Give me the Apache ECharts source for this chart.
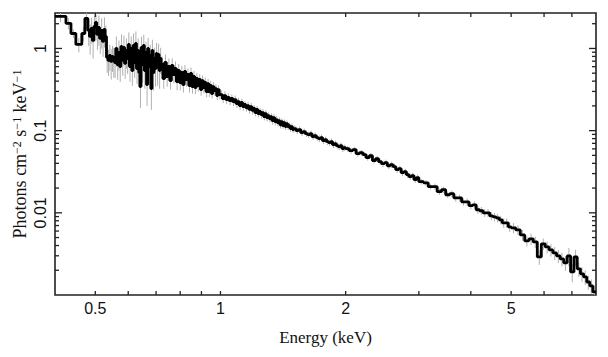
<!DOCTYPE html>
<html><head><meta charset="utf-8">
<script src="https://cdn.jsdelivr.net/npm/echarts@6/dist/echarts.min.js"></script>
<style>html,body{margin:0;padding:0;background:#fff}#c{width:608px;height:357px}</style>
</head><body><div id="c"></div>
<script>
// Bin edges (keV)
const binEdges = [
  0.400, 0.425, 0.437, 0.449, 0.464, 0.472,
  0.480, 0.484, 0.488, 0.492, 0.496, 0.500, 0.504, 0.508, 0.512, 0.516,
  0.520, 0.524, 0.528, 0.532, 0.536, 0.540, 0.544, 0.548, 0.552, 0.556,
  0.560, 0.564, 0.568, 0.572, 0.576, 0.580, 0.584, 0.588, 0.592, 0.596,
  0.600, 0.604, 0.608, 0.612, 0.616, 0.620, 0.624, 0.628, 0.632, 0.636,
  0.640, 0.644, 0.648, 0.652, 0.656, 0.660, 0.664, 0.668, 0.672, 0.676,
  0.680, 0.684, 0.688, 0.692, 0.696, 0.700, 0.704, 0.708, 0.712, 0.716,
  0.720, 0.727, 0.734, 0.741, 0.748, 0.755, 0.762, 0.769, 0.776, 0.783,
  0.790, 0.797, 0.804, 0.811, 0.818, 0.825, 0.832, 0.839, 0.846, 0.853,
  0.860, 0.867, 0.874, 0.881, 0.888, 0.895, 0.902, 0.909, 0.916, 0.923,
  0.930, 0.937, 0.944, 0.951, 0.958, 0.965, 0.972, 0.979, 0.986, 0.993,
  1.00, 1.01, 1.02, 1.03, 1.04, 1.05, 1.06, 1.07, 1.08, 1.09,
  1.10, 1.11, 1.12, 1.13, 1.14, 1.15, 1.16, 1.17, 1.18, 1.19,
  1.20, 1.21, 1.22, 1.23, 1.24, 1.25, 1.26, 1.27, 1.28, 1.29,
  1.30, 1.31, 1.32, 1.33, 1.34, 1.35, 1.36, 1.37, 1.38, 1.39,
  1.40, 1.41, 1.42, 1.43, 1.44, 1.45, 1.46, 1.47, 1.48, 1.49,
  1.50, 1.52, 1.54, 1.56, 1.58, 1.60, 1.62, 1.64, 1.66, 1.68,
  1.70, 1.72, 1.74, 1.76, 1.78, 1.80, 1.82, 1.84, 1.86, 1.88,
  1.90, 1.92, 1.94, 1.96, 1.98,
  2.00, 2.04, 2.08, 2.12, 2.16, 2.20, 2.24, 2.28, 2.32, 2.36,
  2.40, 2.44, 2.48, 2.52, 2.56, 2.60, 2.64, 2.68, 2.72, 2.76,
  2.80, 2.84, 2.88, 2.92, 2.96,
  3.00, 3.08, 3.16, 3.24, 3.32, 3.40, 3.48, 3.56, 3.64, 3.72,
  3.80, 3.88, 3.96, 4.04, 4.12, 4.20, 4.28, 4.36, 4.44, 4.52,
  4.60, 4.68, 4.76, 4.84, 4.92,
  5.00, 5.13, 5.26, 5.39, 5.52, 5.65, 5.78, 5.91, 6.04, 6.17,
  6.30, 6.43, 6.56, 6.69, 6.82, 6.95, 7.08, 7.21, 7.34, 7.47,
  7.60, 7.73, 7.86, 8.00
];
// Flux per bin (photons cm^-2 s^-1 keV^-1)
const flux = [
  2.46, 2.02, 1.52, 1.12, 1.52, 2.32,
  1.658, 1.401, 1.753, 1.252, 1.855,  2.075, 1.482, 1.804, 1.324, 1.658,
  1.217, 1.705, 1.401, 0.777, 0.714,  0.822, 0.695, 0.799, 0.734, 0.675,
  1.000, 0.638, 0.894, 0.603, 1.058,  0.714, 1.028, 0.657, 0.945, 0.755,
  1.119, 0.603, 1.000, 0.539, 1.088,  0.675, 1.151, 0.570, 0.945, 0.510,
  0.344, 1.028, 0.638, 1.088, 0.539,  0.894, 0.364, 1.000, 0.603, 0.822,
  0.325, 0.945, 0.510, 0.755, 0.570,  0.869, 0.587, 0.845, 0.539, 0.755,
  0.638, 0.431, 0.675, 0.456, 0.603, 0.407, 0.620, 0.482, 0.570, 0.396,
  0.539, 0.385, 0.510, 0.364, 0.524, 0.419, 0.482, 0.354, 0.496, 0.344,
  0.456, 0.335, 0.431, 0.354, 0.419, 0.316, 0.407, 0.335, 0.385, 0.299,
  0.374, 0.299, 0.354, 0.283, 0.344, 0.308, 0.325, 0.267, 0.316, 0.275,
  0.275, 0.246, 0.267, 0.239, 0.253, 0.232, 0.246, 0.226, 0.239, 0.214,
  0.226, 0.202, 0.220, 0.196, 0.208, 0.191, 0.202, 0.181, 0.196, 0.176,
  0.186, 0.166, 0.181, 0.161, 0.171, 0.157, 0.166, 0.148, 0.161, 0.144,
  0.152, 0.140, 0.148, 0.132, 0.144, 0.129, 0.136, 0.125, 0.132, 0.118,
  0.129, 0.115, 0.125, 0.112, 0.122, 0.112, 0.115, 0.106, 0.112, 0.103,
  0.106, 0.100, 0.103, 0.0945, 0.0972, 0.0919, 0.0893, 0.0919, 0.0845, 0.0869,
  0.0821, 0.0799, 0.0821, 0.0755, 0.0777, 0.0734, 0.0714, 0.0734, 0.0675, 0.0694,
  0.0656, 0.0638, 0.0656, 0.0603, 0.0620,
  0.0603, 0.0570, 0.0587, 0.0524, 0.0539, 0.0510, 0.0469, 0.0496, 0.0431, 0.0456,
  0.0419, 0.0396, 0.0407, 0.0374, 0.0385, 0.0364, 0.0335, 0.0344, 0.0308, 0.0316,
  0.0291, 0.0275, 0.0283, 0.0253, 0.0267,
  0.0239, 0.0232, 0.0208, 0.0208, 0.0181, 0.0191, 0.0166, 0.0171, 0.0152, 0.0152,
  0.0136, 0.0136, 0.0122, 0.0125, 0.0109, 0.0106, 0.0100, 0.0100, 0.00919, 0.00893,
  0.00869, 0.00821, 0.00755, 0.00755, 0.00675,
  0.00657, 0.00620, 0.00539, 0.00456, 0.00482, 0.00443, 0.00291, 0.00419, 0.00385, 0.00354,
  0.00325, 0.00299, 0.00275, 0.00246, 0.00299, 0.00191, 0.00291, 0.00208, 0.00181, 0.00166,
  0.00144, 0.00129, 0.00109
];
// Fractional 1-sigma uncertainty per bin
const relErr = [
  0.15, 0.15, 0.12, 0.20, 0.20, 0.25,
  0.35, 0.40, 0.35, 0.40, 0.35, 0.40, 0.35, 0.40, 0.35, 0.40,
  0.35, 0.40, 0.35, 0.35, 0.35, 0.35, 0.40, 0.35, 0.40, 0.35,
  0.40, 0.35, 0.40, 0.35, 0.40, 0.35, 0.40, 0.35, 0.40, 0.35,
  0.40, 0.35, 0.40, 0.35, 0.40, 0.35, 0.40, 0.35, 0.40, 0.35,
  0.45, 0.35, 0.40, 0.35, 0.40, 0.35, 0.45, 0.35, 0.40, 0.35,
  0.45, 0.35, 0.40, 0.35, 0.40, 0.35, 0.40, 0.35, 0.40, 0.35,
  0.25, 0.25, 0.25, 0.25, 0.25, 0.22, 0.22, 0.22, 0.22, 0.22,
  0.20, 0.20, 0.20, 0.20, 0.20, 0.18, 0.18, 0.18, 0.18, 0.18,
  0.17, 0.17, 0.17, 0.16, 0.16, 0.16, 0.15, 0.15, 0.15, 0.15,
  0.14, 0.14, 0.14, 0.13, 0.13, 0.13, 0.12, 0.12, 0.12, 0.12,
  0.12, 0.12, 0.12, 0.12, 0.12, 0.12, 0.12, 0.12, 0.12, 0.12,
  0.11, 0.11, 0.11, 0.11, 0.11, 0.11, 0.11, 0.11, 0.11, 0.11,
  0.10, 0.10, 0.10, 0.10, 0.10, 0.10, 0.10, 0.10, 0.10, 0.10,
  0.10, 0.10, 0.10, 0.10, 0.10, 0.10, 0.10, 0.10, 0.10, 0.10,
  0.09, 0.09, 0.09, 0.09, 0.09, 0.09, 0.09, 0.09, 0.09, 0.09,
  0.09, 0.09, 0.09, 0.09, 0.09, 0.09, 0.09, 0.09, 0.09, 0.09,
  0.09, 0.09, 0.09, 0.09, 0.09, 0.09, 0.09, 0.09, 0.09, 0.09,
  0.09, 0.09, 0.09, 0.09, 0.09,
  0.08, 0.08, 0.08, 0.08, 0.08, 0.08, 0.08, 0.08, 0.08, 0.08,
  0.09, 0.09, 0.09, 0.09, 0.09, 0.09, 0.09, 0.09, 0.09, 0.09,
  0.09, 0.09, 0.09, 0.09, 0.09,
  0.08, 0.08, 0.08, 0.09, 0.09, 0.09, 0.09, 0.09, 0.10, 0.10,
  0.10, 0.10, 0.10, 0.10, 0.11, 0.11, 0.11, 0.11, 0.12, 0.12,
  0.12, 0.12, 0.13, 0.13, 0.13,
  0.14, 0.14, 0.15, 0.15, 0.16, 0.16, 0.20, 0.16, 0.17, 0.17,
  0.18, 0.18, 0.19, 0.20, 0.25, 0.25, 0.22, 0.20, 0.20, 0.20,
  0.20, 0.20, 0.20
];
// Axis ticks
const xTickLabels = [0.5, 1, 2, 5];
const xMinorTicks = [0.6, 0.7, 0.8, 0.9, 3, 4, 6, 7];
const yTickLabels = [1, 0.1, 0.01];
const yMinorTicks = [0.002, 0.003, 0.004, 0.005, 0.006, 0.007, 0.008, 0.009,
  0.02, 0.03, 0.04, 0.05, 0.06, 0.07, 0.08, 0.09,
  0.2, 0.3, 0.4, 0.5, 0.6, 0.7, 0.8, 0.9, 2];
const xRange = [0.4, 8];
const yRange = [0.001, 2.7];

const stepData = binEdges.map((e, i) => [e, flux[Math.min(i, flux.length - 1)]]);
const errData = flux.map((f, i) => [Math.sqrt(binEdges[i] * binEdges[i + 1]), f * (1 - relErr[i]), f * (1 + relErr[i])]);

const FRAME = '#222';
const SERIF = '"Liberation Serif", "Times New Roman", serif';
const SANS = '"Liberation Sans", Arial, sans-serif';
const chart = echarts.init(document.getElementById('c'), null, {renderer: 'svg'});

function xTickRender(len, withLabel) {
  return function (params, api) {
    const cs = params.coordSys;
    const x = api.coord([api.value(0), 1])[0];
    const bot = cs.y + cs.height, top = cs.y;
    const ch = [
      {type: 'line', shape: {x1: x, y1: bot, x2: x, y2: bot - len}, style: {stroke: FRAME, lineWidth: 1.3}},
      {type: 'line', shape: {x1: x, y1: top, x2: x, y2: top + len}, style: {stroke: FRAME, lineWidth: 1.3}}
    ];
    if (withLabel) {
      ch.push({type: 'text', x: x, y: bot + 13, style: {text: String(api.value(0)), fill: '#111',
        font: '16px ' + SANS, align: 'center', verticalAlign: 'middle'}});
    }
    return {type: 'group', children: ch};
  };
}
function yTickRender(len, withLabel) {
  return function (params, api) {
    const cs = params.coordSys;
    const y = api.coord([1, api.value(1)])[1];
    const l = cs.x, r = cs.x + cs.width;
    const ch = [
      {type: 'line', shape: {x1: l, y1: y, x2: l + len, y2: y}, style: {stroke: FRAME, lineWidth: 1.3}},
      {type: 'line', shape: {x1: r, y1: y, x2: r - len, y2: y}, style: {stroke: FRAME, lineWidth: 1.3}}
    ];
    if (withLabel) {
      ch.push({type: 'text', x: l - 15, y: y, rotation: Math.PI / 2, style: {text: String(api.value(1)), fill: '#111',
        font: '16px ' + SANS, align: 'center', verticalAlign: 'middle'}});
    }
    return {type: 'group', children: ch};
  };
}

chart.setOption({
  animation: false,
  grid: {left: 55, right: 12, top: 13, bottom: 62, show: true, borderColor: FRAME, borderWidth: 1.6, backgroundColor: 'transparent'},
  xAxis: {
    type: 'log', logBase: 10, min: xRange[0], max: xRange[1],
    axisLine: {show: false}, axisTick: {show: false}, axisLabel: {show: false}, splitLine: {show: false},
    name: 'Energy (keV)', nameLocation: 'middle', nameGap: 34,
    nameTextStyle: {fontFamily: SERIF, fontSize: 17, color: '#111'}
  },
  yAxis: {
    type: 'log', logBase: 10, min: yRange[0], max: yRange[1],
    axisLine: {show: false}, axisTick: {show: false}, axisLabel: {show: false}, splitLine: {show: false},
    name: '{a|Photons cm}{s|\u22122}{a| s}{s|\u22121}{a| keV}{s|\u22121}',
    nameLocation: 'middle', nameRotate: 90, nameGap: 26,
    nameTextStyle: {fontFamily: SERIF, fontSize: 18, color: '#111',
      rich: {
        a: {fontFamily: SERIF, fontSize: 18, color: '#111'},
        s: {fontFamily: SERIF, fontSize: 12, color: '#111', verticalAlign: 'top'}
      }}
  },
  series: [
    {
      type: 'custom', name: 'errors', coordinateSystem: 'cartesian2d', clip: true, z: 1,
      data: errData, silent: true,
      renderItem: function (params, api) {
        const p1 = api.coord([api.value(0), api.value(1)]);
        const p2 = api.coord([api.value(0), api.value(2)]);
        return {type: 'line', shape: {x1: p1[0], y1: p1[1], x2: p2[0], y2: p2[1]}, style: {stroke: '#b0b0b0', lineWidth: 1}};
      }
    },
    {
      type: 'line', name: 'spectrum', step: 'end', data: stepData, showSymbol: false, z: 3,
      lineStyle: {color: '#000', width: 2.8}, silent: true
    },
    {type: 'custom', coordinateSystem: 'cartesian2d', data: xTickLabels.map(v => [v, 1]), renderItem: xTickRender(4, true), z: 5, silent: true},
    {type: 'custom', coordinateSystem: 'cartesian2d', data: xMinorTicks.map(v => [v, 1]), renderItem: xTickRender(4, false), z: 5, silent: true},
    {type: 'custom', coordinateSystem: 'cartesian2d', data: yTickLabels.map(v => [1, v]), renderItem: yTickRender(7, true), z: 5, silent: true},
    {type: 'custom', coordinateSystem: 'cartesian2d', data: yMinorTicks.map(v => [1, v]), renderItem: yTickRender(4, false), z: 5, silent: true}
  ]
});
</script></body></html>
